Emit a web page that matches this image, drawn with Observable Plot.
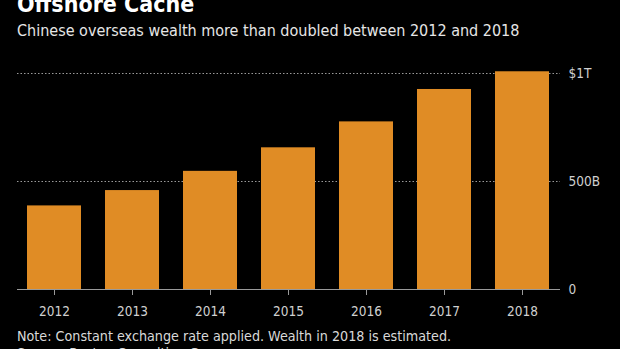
<!DOCTYPE html>
<html>
<head>
<meta charset="utf-8">
<script src="https://cdn.jsdelivr.net/npm/d3@7"></script>
<script src="https://cdn.jsdelivr.net/npm/@observablehq/plot@0.6"></script>
<style>
  html, body { margin: 0; padding: 0; background: #000; }
  body { width: 620px; height: 349px; overflow: hidden; position: relative; font-family: "DejaVu Sans Condensed", "DejaVu Sans", sans-serif; }
  #title { position: absolute; left: 17px; top: -9px; color: #fff; font-weight: bold; font-size: 23px; white-space: nowrap; }
  #subtitle { position: absolute; left: 17px; top: 21px; color: #e6e6e6; font-size: 16px; white-space: nowrap; }
  #chart { position: absolute; left: 0; top: 55px; }
  #note { position: absolute; left: 17px; top: 328px; color: #d9d9d9; font-size: 14.2px; white-space: nowrap; }
  #source { position: absolute; left: 17px; top: 345px; color: #d9d9d9; font-size: 14.2px; white-space: nowrap; }
</style>
</head>
<body>
<div id="title">Offshore Cache</div>
<div id="subtitle">Chinese overseas wealth more than doubled between 2012 and 2018</div>
<div id="chart"></div>
<div id="note">Note: Constant exchange rate applied. Wealth in 2018 is estimated.</div>
<div id="source">Source: Boston Consulting Group</div>
<script>
const years = ["2012", "2013", "2014", "2015", "2016", "2017", "2018"];
const wealth = [387, 458, 547, 656, 776, 926, 1008]; // billions of US dollars
const yTicks = [0, 500, 1000];
const yTickLabels = ["0", "500B", "$1T"];
const gridTicks = [500, 1000];

const data = years.map((year, i) => ({year, value: wealth[i]}));
const labelOf = new Map(yTicks.map((t, i) => [t, yTickLabels[i]]));

const chart = Plot.plot({
  width: 620,
  height: 275,
  marginTop: 18,
  marginBottom: 41,
  marginLeft: 17,
  marginRight: 60,
  style: {background: "#000", color: "#d0d0d0", fontFamily: "'DejaVu Sans Condensed', 'DejaVu Sans', sans-serif", fontSize: "13px"},
  x: {domain: years, paddingInner: 0.306, paddingOuter: 0.123, label: null},
  y: {domain: [0, 1000], label: null},
  marks: [
    Plot.gridY(gridTicks, {stroke: "#9a9a9a", strokeOpacity: 1, strokeDasharray: "1.5,2"}),
    Plot.barY(data, {x: "year", y: "value", fill: "#e08c25"}),
    Plot.ruleY([0], {stroke: "#9a9a9a"}),
    Plot.axisX({tickSize: 6, tickPadding: 11, stroke: "#9a9a9a", fill: "#d0d0d0", fontSize: 13.5}),
    Plot.axisY(yTicks, {anchor: "right", tickSize: 0, tickPadding: 8, textAnchor: "start", tickFormat: d => labelOf.get(d), fill: "#d0d0d0", fontSize: 13.5})
  ]
});
document.getElementById("chart").appendChild(chart);
</script>
</body>
</html>
